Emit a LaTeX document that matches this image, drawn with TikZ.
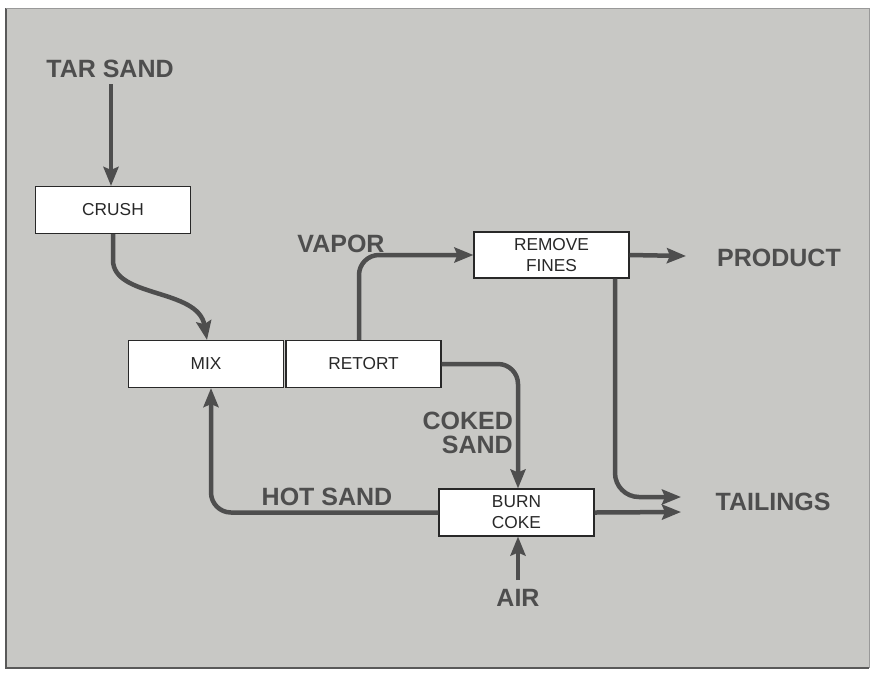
\documentclass[tikz,border=0pt]{standalone}
\usepackage{fontspec}
\setmainfont{Liberation Sans}
\usetikzlibrary{arrows.meta}
\definecolor{bg}{RGB}{200,200,197}
\definecolor{ink}{RGB}{78,78,78}
\definecolor{txt}{RGB}{40,40,40}
\tikzset{
  box/.style={draw=txt, fill=white, line width=1.1pt, minimum width=155pt, minimum height=47pt,
    align=center, text=txt, font=\fontsize{17.3}{21}\selectfont, inner sep=0pt},
  lbl/.style={text=ink, font=\bfseries\fontsize{25}{21.5}\selectfont, inner sep=0pt},
  flow/.style={draw=ink, line width=4.5pt, -{Stealth[length=19pt,width=15pt,inset=3pt]}},
  corner/.style={rounded corners=20pt}
}
\begin{document}
\begin{tikzpicture}[x=1pt,y=-1pt]
\useasboundingbox (0,0) rectangle (874,673);
\fill[white] (0,0) rectangle (874,673);
\fill[bg] (6,8) rectangle (869,668);
\draw[line width=2pt, color=black!65] (6,8) -- (6,668) -- (869,668);
\draw[line width=1pt, color=black!40] (6,8) -- (869,8) -- (869,668);

% boxes
\node[box] (crush)  at (113,210)   {CRUSH};
\node[box] (mix)    at (206,364)   {MIX};
\node[box] (retort) at (363.5,364) {RETORT};
\node[box, minimum height=46pt] (fines) at (551.5,255) {REMOVE\\FINES};
\node[box] (burn)   at (516.5,512.5) {BURN\\COKE};

% labels
\node[lbl] (tar)  at (110,69)  {TAR SAND};
\node[lbl] (vapor) at (341,244) {VAPOR};
\node[lbl] (product) at (779,258) {PRODUCT};
\node[lbl, anchor=east] (coked) at (513,421) {COKED};
\node[lbl, anchor=east] (cokedsand) at (513,445) {SAND};
\node[lbl] (hot) at (327,497) {HOT SAND};
\node[lbl] (tailings) at (773,502) {TAILINGS};
\node[lbl] (air) at (518,598) {AIR};

\coordinate (prodend) at (686,256);
\coordinate (tail1) at (681,497);
\coordinate (tail2) at (681,512);
\coordinate (tarstart) at (111,84);
\coordinate (airstart) at (518,580);

% connectors
\draw[flow] (tarstart) -- (tarstart |- crush.north);
\draw[flow] (crush.south) -- ++(0,26) .. controls +(0,38) and (198,288) .. ([xshift=1pt]mix.north);
\draw[flow, corner] ([xshift=-4.5pt]retort.north) |- (fines.west);
\draw[flow] (fines.east) -- (prodend);
\draw[flow, rounded corners=24pt] ([xshift=63.5pt]fines.south) |- (tail1);
\draw[flow, corner] (retort.east) -| ([xshift=1.5pt]burn.north);
\draw[flow, corner] (burn.west) -| ([xshift=5pt]mix.south);
\draw[flow] (burn.east) -- (tail2);
\draw[flow] (airstart) -- ([xshift=1.5pt]burn.south);
\end{tikzpicture}
\end{document}
